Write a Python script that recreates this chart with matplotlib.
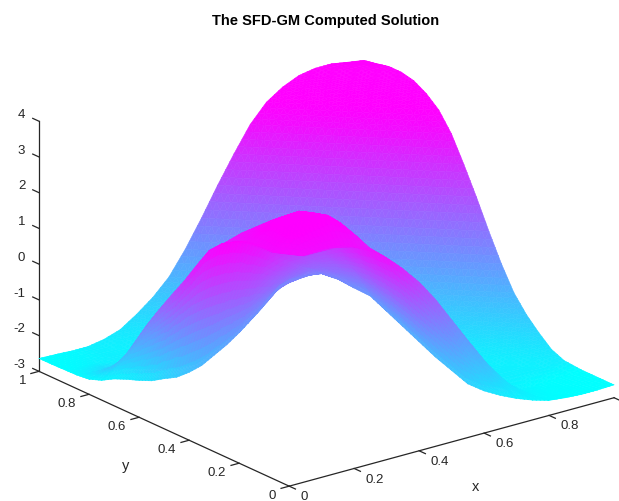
import matplotlib
matplotlib.use("Agg")
import matplotlib.pyplot as plt
import numpy as np
from mpl_toolkits.mplot3d.art3d import Poly3DCollection
from mpl_toolkits.mplot3d import proj3d

plt.rcParams['font.family'] = ['Liberation Sans', 'DejaVu Sans']

# grid (finer next to the front edges, surface climbs steeply there)
xs = [0, .033, .066, .1, .15, .2, .25, .3, .35, .4, .45, .5, .55, .6, .65, .7, .75, .8, .85, .9, .95, 1]
ys = [0, .043, .087, .13, .2, .25, .3, .35, .4, .45, .5, .55, .6, .65, .7, .75, .8, .85, .9, .95, 1]

# heights, one row per y
Z = [
 [2.70, 2.73, 2.75, 2.70, 2.42, 2.05, 1.70, 1.15, .60, .05, -.50, -1.00, -1.50, -1.82, -2.07, -2.28, -2.45, -2.58, -2.63, -2.66, -2.66, -2.64],
 [2.45, 2.55, 2.57, 2.67, 2.49, 2.24, 2.00, 1.60, 1.16, .70, .18, -.32, -.85, -1.30, -1.70, -2.07, -2.40, -2.63, -2.67, -2.68, -2.67, -2.64],
 [1.95, 2.15, 2.38, 2.63, 2.56, 2.44, 2.30, 2.05, 1.72, 1.34, .86, .37, -.20, -.77, -1.32, -1.86, -2.35, -2.67, -2.70, -2.70, -2.67, -2.64],
 [1.40, 1.80, 2.20, 2.60, 2.62, 2.63, 2.62, 2.50, 2.28, 1.98, 1.55, 1.05, .45, -.25, -.95, -1.65, -2.30, -2.72, -2.75, -2.72, -2.68, -2.64],
 [.65, 1.30, 1.97, 2.63, 2.30, 2.30, 2.35, 2.35, 2.24, 2.04, 1.30, .30, -.60, -1.35, -1.85, -2.35, -2.65, -2.65, -2.65, -2.66, -2.68, -2.60],
 [.15, .97, 1.80, 2.62, 2.38, 2.75, 2.85, 2.95, 2.70, 2.20, .70, -.05, -.60, -1.15, -1.70, -2.20, -2.65, -2.65, -2.65, -2.68, -2.60, -2.45],
 [-.30, .66, 1.63, 2.59, 2.38, 2.80, 2.90, 2.95, 2.75, 1.10, .55, .15, -.45, -1.00, -1.55, -2.05, -2.60, -2.68, -2.68, -2.60, -2.45, -2.15],
 [-.75, .32, 1.40, 2.46, 2.35, 2.60, 2.80, 2.83, 1.80, .95, .60, .25, -.30, -.80, -1.35, -1.90, -2.45, -2.68, -2.60, -2.45, -2.15, -1.80],
 [-1.10, .02, 1.13, 2.25, 2.20, 2.40, 2.52, 1.40, .85, .85, .60, .25, -.15, -.65, -1.20, -1.75, -2.30, -2.60, -2.45, -2.15, -1.80, -1.35],
 [-1.40, -.30, .80, 1.90, 2.00, 2.14, 1.30, .45, .60, .65, .55, .30, -.10, -.50, -1.05, -1.60, -2.15, -2.45, -2.15, -1.80, -1.35, -.70],
 [-1.60, -.63, .35, 1.32, 1.40, 1.20, .40, -.20, .20, .35, .35, .25, -.10, -.45, -.85, -1.40, -1.95, -2.15, -1.80, -1.35, -.70, .05],
 [-1.82, -.98, -.13, .72, .70, .20, -.70, -.75, -.35, 0, .10, .10, -.05, -.40, -.75, -1.25, -1.80, -1.80, -1.35, -.70, .05, .85],
 [-1.97, -1.26, -.54, .17, 0, -.70, -1.60, -1.30, -.90, -.50, -.20, -.15, -.15, -.40, -.75, -1.10, -1.60, -1.35, -.70, .05, .85, 1.60],
 [-2.10, -1.54, -.96, -.40, -.70, -1.60, -2.05, -1.80, -1.45, -1.10, -.65, -.45, -.40, -.45, -.70, -1.10, -1.35, -.70, .05, .85, 1.60, 2.30],
 [-2.25, -1.83, -1.42, -1.00, -1.40, -2.30, -2.45, -2.25, -2.00, -1.65, -1.20, -.80, -.70, -.65, -.75, -1.05, -.70, .05, .85, 1.60, 2.30, 2.80],
 [-2.45, -2.23, -2.02, -1.80, -2.10, -2.60, -2.64, -2.66, -2.45, -2.15, -1.80, -1.40, -1.05, -.95, -.95, -.70, .05, .85, 1.60, 2.30, 2.80, 3.10],
 [-2.58, -2.52, -2.46, -2.40, -2.65, -2.64, -2.66, -2.68, -2.68, -2.60, -2.35, -1.95, -1.50, -1.20, -.70, .05, .85, 1.60, 2.30, 2.80, 3.10, 3.30],
 [-2.62, -2.65, -2.67, -2.70, -2.64, -2.66, -2.68, -2.68, -2.60, -2.45, -2.15, -1.80, -1.35, -.70, .05, .85, 1.60, 2.30, 2.80, 3.10, 3.30, 3.38],
 [-2.63, -2.66, -2.69, -2.72, -2.66, -2.68, -2.68, -2.60, -2.45, -2.15, -1.80, -1.35, -.70, .05, .85, 1.60, 2.30, 2.80, 3.10, 3.30, 3.38, 3.38],
 [-2.64, -2.66, -2.68, -2.70, -2.68, -2.68, -2.60, -2.45, -2.15, -1.80, -1.35, -.70, .05, .85, 1.60, 2.30, 2.80, 3.10, 3.30, 3.38, 3.38, 3.30],
 [-2.64, -2.65, -2.66, -2.68, -2.68, -2.60, -2.45, -2.15, -1.80, -1.35, -.70, .05, .85, 1.60, 2.30, 2.80, 3.10, 3.30, 3.38, 3.38, 3.30, 3.23],
]

# colour levels along the front edges and the crest behind them (not the same as height there)
edge_c_x0 = [.5, .48, .45, .42, .38, .34, .3, .26, .22, .18, .14, .1, .08, .06, .04, .03, .02, .01, 0, 0, 0]
crest_c_x = [.55, .58, .65, .72, .86, .93, .97, 1, 1, .96, .9, .8, .68, .58, .5, .42, .3, .15, .05, .03, .02]
edge_c_y0 = [.5, .49, .48, .48, .46, .43, .4, .36, .32, .3, .26, .22, .17, .12, .08, .05, .03, .01, 0, 0, 0, 0]
crest_c_y = [.42, .5, .62, .72, .7, .72, .8, .88, .93, .93, .85, .73, .62, .48, .38, .22, .12, .05, .02, .01, .01, 0]

xticks = [0, .2, .4, .6, .8, 1]
yticks = [0, .2, .4, .6, .8, 1]
zticks = [-3, -2, -1, 0, 1, 2, 3, 4]

Z = np.array(Z)

# colour follows height, except in the strip by the front edges
C = np.clip((Z + 3) / 5.6, 0, 1)
C[:, 3] = crest_c_x
C[:, 0] = edge_c_x0
C[3, :] = crest_c_y
C[0, :] = edge_c_y0
for i in (1, 2):
    C[3:, i] = C[3:, 0] + (C[3:, 3] - C[3:, 0]) * xs[i] / xs[3]
for j in (1, 2):
    C[j, :] = C[0, :] + (C[3, :] - C[0, :]) * ys[j] / ys[3]

verts = []
levels = []


def add_tri(p, cp):
    # flat triangle cut in small pieces only to get the smooth colour of "shading interp"
    n = 4
    p = np.array(p)
    cp = np.array(cp)

    def at(u, v):
        w = np.array([u, v, n - u - v]) / n
        return w @ p, w @ cp

    for u in range(n):
        for v in range(n - u):
            tri = [at(u, v), at(u + 1, v), at(u, v + 1)]
            verts.append([t[0] for t in tri])
            levels.append(np.mean([t[1] for t in tri]))
            if u + v < n - 1:
                tri = [at(u + 1, v), at(u + 1, v + 1), at(u, v + 1)]
                verts.append([t[0] for t in tri])
                levels.append(np.mean([t[1] for t in tri]))


for j in range(len(ys) - 1):
    for i in range(len(xs) - 1):
        a = (xs[i], ys[j], Z[j, i])
        b = (xs[i + 1], ys[j], Z[j, i + 1])
        c = (xs[i + 1], ys[j + 1], Z[j + 1, i + 1])
        d = (xs[i], ys[j + 1], Z[j + 1, i])
        add_tri([a, b, d], [C[j, i], C[j, i + 1], C[j + 1, i]])
        add_tri([b, c, d], [C[j, i + 1], C[j + 1, i + 1], C[j + 1, i]])
colors = plt.cm.cool(np.array(levels))

W, H = 619, 501
fig = plt.figure(figsize=(W / 100, H / 100), dpi=100)
ax = fig.add_axes([8.2 / W, -76.8 / H, 619.9 / W, 619.9 / H], projection='3d')
ax.set_proj_type('ortho')
ax.view_init(elev=20.7, azim=-127.6)
ax.set_box_aspect((1, 1, .652))
ax.set_axis_off()

surf = Poly3DCollection(verts, facecolors=colors, edgecolors=colors, linewidths=.4, zsort='average')
ax.add_collection3d(surf)
ax.set_xlim(0, 1)
ax.set_ylim(0, 1)
ax.set_zlim(-3, 4)


def label3d(x, y, z, s, **kw):
    # place in 2d so the text has its real position on the canvas
    px, py, _ = proj3d.proj_transform(x, y, z, ax.get_proj())
    ax.text2D(px, py, s, transform=ax.transData, color=axc, fontsize=9.5, **kw)


# axes drawn by hand, octave style
axc = '#262626'
ax.plot([0, 1], [0, 0], [-3, -3], color=axc, lw=.9)
ax.plot([0, 0], [0, 1], [-3, -3], color=axc, lw=.9)
ax.plot([0, 0], [1, 1], [-3, 4], color=axc, lw=.9)
tl = .025
for v in xticks:
    ax.plot([v, v], [0, -tl], [-3, -3], color=axc, lw=.9)
    if v < 1:
        label3d(v, -.044, -3, f'{v:g}', ha='left', va='top')
for v in yticks:
    ax.plot([0, -tl], [v, v], [-3, -3], color=axc, lw=.9)
    label3d(-.04, v, -3, f'{v:g}', ha='right', va='top')
for v in zticks:
    ax.plot([0, 0], [1, 1 + tl], [v, v], color=axc, lw=.9)
    label3d(0, 1.055, v, f'{v:g}', ha='right', va='center')

fig.text(476 / W, 1 - 487 / H, 'x', color=axc, fontsize=10.5, ha='center', va='center')
fig.text(126 / W, 1 - 466 / H, 'y', color=axc, fontsize=10.5, ha='center', va='center')
fig.text(326 / W, 1 - 21 / H, 'The SFD-GM Computed Solution', color='black', fontsize=10.5,
         fontweight='bold', ha='center', va='center')

fig.savefig('out.png', dpi=100)
plt.close(fig)
